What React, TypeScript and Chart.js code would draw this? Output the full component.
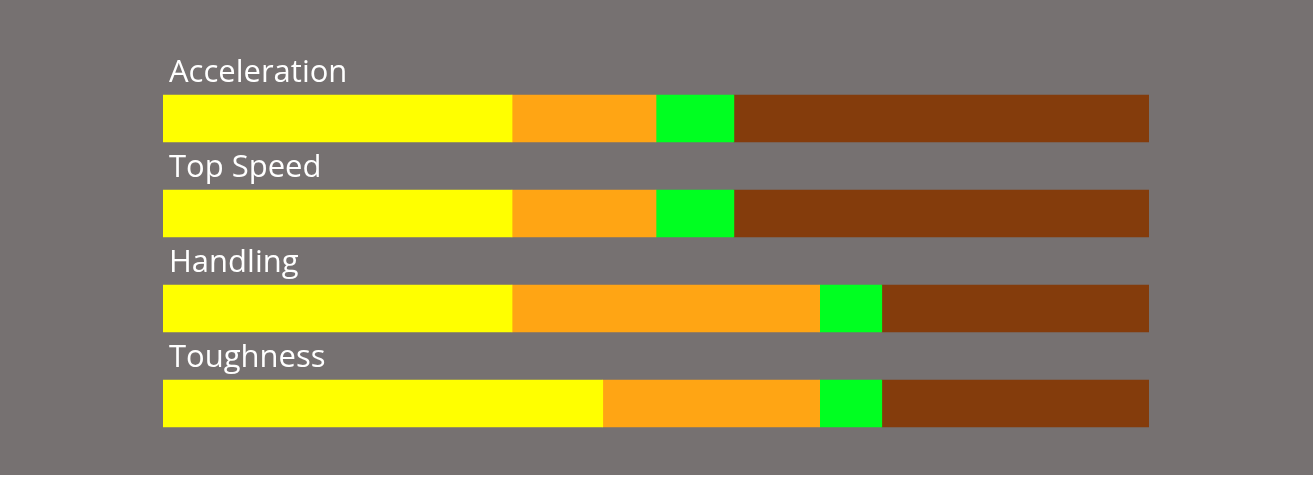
import React, { useEffect, useRef } from "react";
import { Chart, registerables } from "chart.js";

Chart.register(...registerables);

const categories = ["Acceleration", "Top Speed", "Handling", "Toughness"];
const seriesNames = ["Tier 1", "Tier 2", "Tier 3", "Tier 4"];
const tier1 = [35.4, 35.4, 35.4, 44.6];
const tier2 = [14.6, 14.6, 31.2, 22.0];
const tier3 = [7.9, 7.9, 6.3, 6.3];
const tier4 = [42.1, 42.1, 27.1, 27.1];
const colors = ["#FFFF00", "#FFA514", "#00FF21", "#843C0C"];

const labelPlugin = {
  id: "topLabels",
  afterDatasetsDraw(chart: any) {
    const { ctx, scales, chartArea } = chart;
    const y = scales.y;
    ctx.save();
    ctx.fillStyle = "#FFFFFF";
    ctx.font = "31px 'Open Sans'";
    ctx.textAlign = "left";
    ctx.textBaseline = "alphabetic";
    categories.forEach((c, i) => {
      const cy = y.getPixelForValue(i);
      ctx.fillText(c, chartArea.left + 6, cy - 23.5 - 13);
    });
    ctx.restore();
  },
};

export default function App() {
  const ref = useRef<HTMLCanvasElement>(null);
  useEffect(() => {
    document.body.style.margin = "0";
    const series = [tier1, tier2, tier3, tier4];
    const chart = new Chart(ref.current!, {
      type: "bar",
      data: {
        labels: categories,
        datasets: series.map((d, i) => ({
          label: seriesNames[i],
          data: d,
          backgroundColor: colors[i],
          borderWidth: 0,
          barThickness: 47,
        })),
      },
      options: {
        indexAxis: "y",
        animation: false,
        responsive: false,
        maintainAspectRatio: false,
        layout: { padding: { left: 163, right: 164, top: 71, bottom: 24 } },
        plugins: { legend: { display: false }, tooltip: { enabled: false } },
        scales: {
          x: { stacked: true, min: 0, max: 100, display: false },
          y: { stacked: true, display: false },
        },
      },
      plugins: [labelPlugin],
    });
    return () => chart.destroy();
  }, []);
  return (
    <div style={{ width: 1313, height: 475, background: "#767171" }}>
      <canvas ref={ref} width={1313} height={475} style={{ display: "block" }} />
    </div>
  );
}
